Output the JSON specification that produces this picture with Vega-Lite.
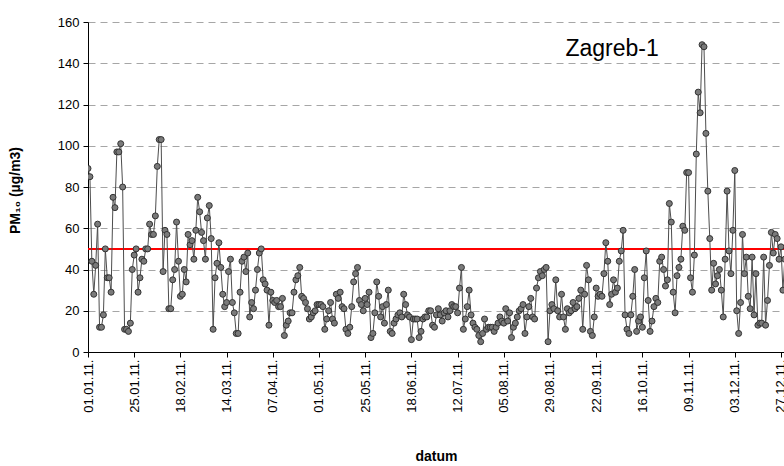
{
  "$schema": "https://vega.github.io/schema/vega-lite/v6.json",
  "width": 696,
  "height": 330,
  "autosize": {"type": "none"},
  "padding": {"left": 88, "top": 22, "right": 0, "bottom": 114},
  "background": "white",
  "config": {"view": {"stroke": null}, "font": "Liberation Sans"},
  "datasets": {
    "pm": [
      {"datum":"2011-01-01","pm10":89},{"datum":"2011-01-02","pm10":85},{"datum":"2011-01-03","pm10":44},{"datum":"2011-01-04","pm10":28},{"datum":"2011-01-05","pm10":42},{"datum":"2011-01-06","pm10":62},{"datum":"2011-01-07","pm10":12},{"datum":"2011-01-08","pm10":12},{"datum":"2011-01-09","pm10":18},{"datum":"2011-01-10","pm10":50},{"datum":"2011-01-11","pm10":36},{"datum":"2011-01-12","pm10":36},{"datum":"2011-01-13","pm10":29},{"datum":"2011-01-14","pm10":75},{"datum":"2011-01-15","pm10":70},{"datum":"2011-01-16","pm10":97},{"datum":"2011-01-17","pm10":97},{"datum":"2011-01-18","pm10":101},{"datum":"2011-01-19","pm10":80},{"datum":"2011-01-20","pm10":11},{"datum":"2011-01-21","pm10":11},{"datum":"2011-01-22","pm10":10},{"datum":"2011-01-23","pm10":14},{"datum":"2011-01-24","pm10":40},{"datum":"2011-01-25","pm10":47},{"datum":"2011-01-26","pm10":50},{"datum":"2011-01-27","pm10":29},{"datum":"2011-01-28","pm10":36},{"datum":"2011-01-29","pm10":45},{"datum":"2011-01-30","pm10":44},{"datum":"2011-01-31","pm10":50},
      {"datum":"2011-02-01","pm10":50},{"datum":"2011-02-02","pm10":62},{"datum":"2011-02-03","pm10":57},{"datum":"2011-02-04","pm10":57},{"datum":"2011-02-05","pm10":66},{"datum":"2011-02-06","pm10":90},{"datum":"2011-02-07","pm10":103},{"datum":"2011-02-08","pm10":103},{"datum":"2011-02-09","pm10":39},{"datum":"2011-02-10","pm10":59},{"datum":"2011-02-11","pm10":57},{"datum":"2011-02-12","pm10":21},{"datum":"2011-02-13","pm10":21},{"datum":"2011-02-14","pm10":35},{"datum":"2011-02-15","pm10":40},{"datum":"2011-02-16","pm10":63},{"datum":"2011-02-17","pm10":44},{"datum":"2011-02-18","pm10":27},{"datum":"2011-02-19","pm10":28},{"datum":"2011-02-20","pm10":40},{"datum":"2011-02-21","pm10":34},{"datum":"2011-02-22","pm10":57},{"datum":"2011-02-23","pm10":52},{"datum":"2011-02-24","pm10":54},{"datum":"2011-02-25","pm10":45},{"datum":"2011-02-26","pm10":59},{"datum":"2011-02-27","pm10":75},{"datum":"2011-02-28","pm10":68},
      {"datum":"2011-03-01","pm10":58},{"datum":"2011-03-02","pm10":54},{"datum":"2011-03-03","pm10":45},{"datum":"2011-03-04","pm10":65},{"datum":"2011-03-05","pm10":71},{"datum":"2011-03-06","pm10":55},{"datum":"2011-03-07","pm10":11},{"datum":"2011-03-08","pm10":36},{"datum":"2011-03-09","pm10":43},{"datum":"2011-03-10","pm10":53},{"datum":"2011-03-11","pm10":41},{"datum":"2011-03-12","pm10":28},{"datum":"2011-03-13","pm10":22},{"datum":"2011-03-14","pm10":24},{"datum":"2011-03-15","pm10":39},{"datum":"2011-03-16","pm10":45},{"datum":"2011-03-17","pm10":24},{"datum":"2011-03-18","pm10":19},{"datum":"2011-03-19","pm10":9},{"datum":"2011-03-20","pm10":9},{"datum":"2011-03-21","pm10":29},{"datum":"2011-03-22","pm10":44},{"datum":"2011-03-23","pm10":46},{"datum":"2011-03-24","pm10":39},{"datum":"2011-03-25","pm10":48},{"datum":"2011-03-26","pm10":17},{"datum":"2011-03-27","pm10":24},{"datum":"2011-03-28","pm10":21},{"datum":"2011-03-29","pm10":30},{"datum":"2011-03-30","pm10":40},{"datum":"2011-03-31","pm10":48},
      {"datum":"2011-04-01","pm10":50},{"datum":"2011-04-02","pm10":35},{"datum":"2011-04-03","pm10":33},{"datum":"2011-04-04","pm10":30},{"datum":"2011-04-05","pm10":13},{"datum":"2011-04-06","pm10":29},{"datum":"2011-04-07","pm10":25},{"datum":"2011-04-08","pm10":24},{"datum":"2011-04-09","pm10":25},{"datum":"2011-04-10","pm10":22},{"datum":"2011-04-11","pm10":22},{"datum":"2011-04-12","pm10":26},{"datum":"2011-04-13","pm10":8},{"datum":"2011-04-14","pm10":13},{"datum":"2011-04-15","pm10":15},{"datum":"2011-04-16","pm10":19},{"datum":"2011-04-17","pm10":19},{"datum":"2011-04-18","pm10":29},{"datum":"2011-04-19","pm10":35},{"datum":"2011-04-20","pm10":37},{"datum":"2011-04-21","pm10":41},{"datum":"2011-04-22","pm10":27},{"datum":"2011-04-23","pm10":26},{"datum":"2011-04-24","pm10":24},{"datum":"2011-04-25","pm10":21},{"datum":"2011-04-26","pm10":16},{"datum":"2011-04-27","pm10":17},{"datum":"2011-04-28","pm10":19},{"datum":"2011-04-29","pm10":20},{"datum":"2011-04-30","pm10":23},
      {"datum":"2011-05-01","pm10":23},{"datum":"2011-05-02","pm10":23},{"datum":"2011-05-03","pm10":22},{"datum":"2011-05-04","pm10":11},{"datum":"2011-05-05","pm10":16},{"datum":"2011-05-06","pm10":20},{"datum":"2011-05-07","pm10":24},{"datum":"2011-05-08","pm10":16},{"datum":"2011-05-09","pm10":14},{"datum":"2011-05-10","pm10":28},{"datum":"2011-05-11","pm10":26},{"datum":"2011-05-12","pm10":29},{"datum":"2011-05-13","pm10":22},{"datum":"2011-05-14","pm10":21},{"datum":"2011-05-15","pm10":11},{"datum":"2011-05-16","pm10":9},{"datum":"2011-05-17","pm10":12},{"datum":"2011-05-18","pm10":22},{"datum":"2011-05-19","pm10":34},{"datum":"2011-05-20","pm10":38},{"datum":"2011-05-21","pm10":41},{"datum":"2011-05-22","pm10":25},{"datum":"2011-05-23","pm10":23},{"datum":"2011-05-24","pm10":20},{"datum":"2011-05-25","pm10":26},{"datum":"2011-05-26","pm10":23},{"datum":"2011-05-27","pm10":29},{"datum":"2011-05-28","pm10":7},{"datum":"2011-05-29","pm10":9},{"datum":"2011-05-30","pm10":19},{"datum":"2011-05-31","pm10":34},
      {"datum":"2011-06-01","pm10":27},{"datum":"2011-06-02","pm10":17},{"datum":"2011-06-03","pm10":22},{"datum":"2011-06-04","pm10":14},{"datum":"2011-06-05","pm10":23},{"datum":"2011-06-06","pm10":30},{"datum":"2011-06-07","pm10":10},{"datum":"2011-06-08","pm10":9},{"datum":"2011-06-09","pm10":14},{"datum":"2011-06-10","pm10":16},{"datum":"2011-06-11","pm10":18},{"datum":"2011-06-12","pm10":19},{"datum":"2011-06-13","pm10":17},{"datum":"2011-06-14","pm10":28},{"datum":"2011-06-15","pm10":23},{"datum":"2011-06-16","pm10":18},{"datum":"2011-06-17","pm10":17},{"datum":"2011-06-18","pm10":6},{"datum":"2011-06-19","pm10":16},{"datum":"2011-06-20","pm10":16},{"datum":"2011-06-21","pm10":16},{"datum":"2011-06-22","pm10":7},{"datum":"2011-06-23","pm10":10},{"datum":"2011-06-24","pm10":16},{"datum":"2011-06-25","pm10":17},{"datum":"2011-06-26","pm10":17},{"datum":"2011-06-27","pm10":20},{"datum":"2011-06-28","pm10":20},{"datum":"2011-06-29","pm10":13},{"datum":"2011-06-30","pm10":12},
      {"datum":"2011-07-01","pm10":18},{"datum":"2011-07-02","pm10":21},{"datum":"2011-07-03","pm10":18},{"datum":"2011-07-04","pm10":15},{"datum":"2011-07-05","pm10":19},{"datum":"2011-07-06","pm10":20},{"datum":"2011-07-07","pm10":17},{"datum":"2011-07-08","pm10":20},{"datum":"2011-07-09","pm10":23},{"datum":"2011-07-10","pm10":22},{"datum":"2011-07-11","pm10":22},{"datum":"2011-07-12","pm10":19},{"datum":"2011-07-13","pm10":31},{"datum":"2011-07-14","pm10":41},{"datum":"2011-07-15","pm10":11},{"datum":"2011-07-16","pm10":16},{"datum":"2011-07-17","pm10":22},{"datum":"2011-07-18","pm10":30},{"datum":"2011-07-19","pm10":18},{"datum":"2011-07-20","pm10":14},{"datum":"2011-07-21","pm10":12},{"datum":"2011-07-22","pm10":11},{"datum":"2011-07-23","pm10":8},{"datum":"2011-07-24","pm10":5},{"datum":"2011-07-25","pm10":9},{"datum":"2011-07-26","pm10":16},{"datum":"2011-07-27","pm10":11},{"datum":"2011-07-28","pm10":12},{"datum":"2011-07-29","pm10":12},{"datum":"2011-07-30","pm10":12},{"datum":"2011-07-31","pm10":10},
      {"datum":"2011-08-01","pm10":12},{"datum":"2011-08-02","pm10":14},{"datum":"2011-08-03","pm10":17},{"datum":"2011-08-04","pm10":15},{"datum":"2011-08-05","pm10":14},{"datum":"2011-08-06","pm10":21},{"datum":"2011-08-07","pm10":15},{"datum":"2011-08-08","pm10":19},{"datum":"2011-08-09","pm10":7},{"datum":"2011-08-10","pm10":12},{"datum":"2011-08-11","pm10":14},{"datum":"2011-08-12","pm10":17},{"datum":"2011-08-13","pm10":20},{"datum":"2011-08-14","pm10":21},{"datum":"2011-08-15","pm10":23},{"datum":"2011-08-16","pm10":9},{"datum":"2011-08-17","pm10":17},{"datum":"2011-08-18","pm10":22},{"datum":"2011-08-19","pm10":26},{"datum":"2011-08-20","pm10":17},{"datum":"2011-08-21","pm10":16},{"datum":"2011-08-22","pm10":31},{"datum":"2011-08-23","pm10":36},{"datum":"2011-08-24","pm10":39},{"datum":"2011-08-25","pm10":37},{"datum":"2011-08-26","pm10":40},{"datum":"2011-08-27","pm10":41},{"datum":"2011-08-28","pm10":5},{"datum":"2011-08-29","pm10":20},{"datum":"2011-08-30","pm10":23},{"datum":"2011-08-31","pm10":21},
      {"datum":"2011-09-01","pm10":35},{"datum":"2011-09-02","pm10":20},{"datum":"2011-09-03","pm10":17},{"datum":"2011-09-04","pm10":28},{"datum":"2011-09-05","pm10":17},{"datum":"2011-09-06","pm10":11},{"datum":"2011-09-07","pm10":21},{"datum":"2011-09-08","pm10":19},{"datum":"2011-09-09","pm10":20},{"datum":"2011-09-10","pm10":24},{"datum":"2011-09-11","pm10":21},{"datum":"2011-09-12","pm10":22},{"datum":"2011-09-13","pm10":26},{"datum":"2011-09-14","pm10":30},{"datum":"2011-09-15","pm10":11},{"datum":"2011-09-16","pm10":28},{"datum":"2011-09-17","pm10":42},{"datum":"2011-09-18","pm10":35},{"datum":"2011-09-19","pm10":10},{"datum":"2011-09-20","pm10":8},{"datum":"2011-09-21","pm10":17},{"datum":"2011-09-22","pm10":31},{"datum":"2011-09-23","pm10":27},{"datum":"2011-09-24","pm10":28},{"datum":"2011-09-25","pm10":27},{"datum":"2011-09-26","pm10":38},{"datum":"2011-09-27","pm10":53},{"datum":"2011-09-28","pm10":44},{"datum":"2011-09-29","pm10":23},{"datum":"2011-09-30","pm10":28},
      {"datum":"2011-10-01","pm10":35},{"datum":"2011-10-02","pm10":29},{"datum":"2011-10-03","pm10":31},{"datum":"2011-10-04","pm10":44},{"datum":"2011-10-05","pm10":49},{"datum":"2011-10-06","pm10":59},{"datum":"2011-10-07","pm10":18},{"datum":"2011-10-08","pm10":11},{"datum":"2011-10-09","pm10":9},{"datum":"2011-10-10","pm10":18},{"datum":"2011-10-11","pm10":27},{"datum":"2011-10-12","pm10":40},{"datum":"2011-10-13","pm10":10},{"datum":"2011-10-14","pm10":15},{"datum":"2011-10-15","pm10":17},{"datum":"2011-10-16","pm10":12},{"datum":"2011-10-17","pm10":36},{"datum":"2011-10-18","pm10":49},{"datum":"2011-10-19","pm10":25},{"datum":"2011-10-20","pm10":10},{"datum":"2011-10-21","pm10":15},{"datum":"2011-10-22","pm10":22},{"datum":"2011-10-23","pm10":26},{"datum":"2011-10-24","pm10":24},{"datum":"2011-10-25","pm10":44},{"datum":"2011-10-26","pm10":46},{"datum":"2011-10-27","pm10":40},{"datum":"2011-10-28","pm10":32},{"datum":"2011-10-29","pm10":35},{"datum":"2011-10-30","pm10":72},{"datum":"2011-10-31","pm10":63},
      {"datum":"2011-11-01","pm10":29},{"datum":"2011-11-02","pm10":19},{"datum":"2011-11-03","pm10":37},{"datum":"2011-11-04","pm10":41},{"datum":"2011-11-05","pm10":45},{"datum":"2011-11-06","pm10":61},{"datum":"2011-11-07","pm10":59},{"datum":"2011-11-08","pm10":87},{"datum":"2011-11-09","pm10":87},{"datum":"2011-11-10","pm10":36},{"datum":"2011-11-11","pm10":29},{"datum":"2011-11-12","pm10":47},{"datum":"2011-11-13","pm10":96},{"datum":"2011-11-14","pm10":126},{"datum":"2011-11-15","pm10":116},{"datum":"2011-11-16","pm10":149},{"datum":"2011-11-17","pm10":148},{"datum":"2011-11-18","pm10":106},{"datum":"2011-11-19","pm10":78},{"datum":"2011-11-20","pm10":55},{"datum":"2011-11-21","pm10":30},{"datum":"2011-11-22","pm10":43},{"datum":"2011-11-23","pm10":33},{"datum":"2011-11-24","pm10":37},{"datum":"2011-11-25","pm10":40},{"datum":"2011-11-26","pm10":30},{"datum":"2011-11-27","pm10":17},{"datum":"2011-11-28","pm10":45},{"datum":"2011-11-29","pm10":78},{"datum":"2011-11-30","pm10":49},
      {"datum":"2011-12-01","pm10":38},{"datum":"2011-12-02","pm10":59},{"datum":"2011-12-03","pm10":88},{"datum":"2011-12-04","pm10":20},{"datum":"2011-12-05","pm10":9},{"datum":"2011-12-06","pm10":24},{"datum":"2011-12-07","pm10":57},{"datum":"2011-12-08","pm10":38},{"datum":"2011-12-09","pm10":46},{"datum":"2011-12-10","pm10":27},{"datum":"2011-12-11","pm10":21},{"datum":"2011-12-12","pm10":46},{"datum":"2011-12-13","pm10":18},{"datum":"2011-12-14","pm10":38},{"datum":"2011-12-15","pm10":13},{"datum":"2011-12-16","pm10":14},{"datum":"2011-12-17","pm10":14},{"datum":"2011-12-18","pm10":46},{"datum":"2011-12-19","pm10":13},{"datum":"2011-12-20","pm10":25},{"datum":"2011-12-21","pm10":42},{"datum":"2011-12-22","pm10":58},{"datum":"2011-12-23","pm10":48},{"datum":"2011-12-24","pm10":57},{"datum":"2011-12-25","pm10":55},{"datum":"2011-12-26","pm10":45},{"datum":"2011-12-27","pm10":51},{"datum":"2011-12-28","pm10":30},{"datum":"2011-12-29","pm10":45}
    ],
    "label": [{"station": "Zagreb-1", "datum": "2011-09-06", "pm10": 147}],
    "limit": [{"pm10": 50}]
  },
  "encoding": {
    "x": {
      "field": "datum",
      "type": "temporal",
      "scale": {
        "type": "utc",
        "domain": [
          {"year": 2011, "month": 1, "date": 1, "utc": true},
          {"year": 2011, "month": 12, "date": 28, "hours": 13, "minutes": 30, "utc": true}
        ]
      },
      "axis": {
        "values": [
          {"year": 2011, "month": 1, "date": 1, "utc": true},
          {"year": 2011, "month": 1, "date": 25, "utc": true},
          {"year": 2011, "month": 2, "date": 18, "utc": true},
          {"year": 2011, "month": 3, "date": 14, "utc": true},
          {"year": 2011, "month": 4, "date": 7, "utc": true},
          {"year": 2011, "month": 5, "date": 1, "utc": true},
          {"year": 2011, "month": 5, "date": 25, "utc": true},
          {"year": 2011, "month": 6, "date": 18, "utc": true},
          {"year": 2011, "month": 7, "date": 12, "utc": true},
          {"year": 2011, "month": 8, "date": 5, "utc": true},
          {"year": 2011, "month": 8, "date": 29, "utc": true},
          {"year": 2011, "month": 9, "date": 22, "utc": true},
          {"year": 2011, "month": 10, "date": 16, "utc": true},
          {"year": 2011, "month": 11, "date": 9, "utc": true},
          {"year": 2011, "month": 12, "date": 3, "utc": true},
          {"year": 2011, "month": 12, "date": 27, "utc": true}
        ],
        "labelExpr": "utcFormat(datum.value, '%d.%m.%y.')",
        "labelAngle": -90,
        "labelFontSize": 13,
        "labelColor": "black",
        "labelPadding": 2,
        "labelOverlap": false,
        "labelFlush": false,
        "tickColor": "black",
        "tickSize": 5,
        "domainColor": "black",
        "grid": false,
        "title": "datum",
        "titleFontSize": 14,
        "titleFontWeight": "bold",
        "titleColor": "black",
        "titleX": 348,
        "titleY": 104,
        "titleBaseline": "middle",
        "titleAlign": "center"
      }
    },
    "y": {
      "field": "pm10",
      "type": "quantitative",
      "scale": {"domain": [0, 160], "nice": false},
      "axis": {
        "values": [0, 20, 40, 60, 80, 100, 120, 140, 160],
        "labelFontSize": 13,
        "labelColor": "black",
        "labelPadding": 4,
        "tickColor": "black",
        "tickSize": 5,
        "domainColor": "black",
        "grid": true,
        "gridColor": "#a6a6a6",
        "gridDash": [7, 5],
        "title": "PM₁₀ (µg/m3)",
        "titleFontSize": 14,
        "titleFontWeight": "bold",
        "titleColor": "black",
        "titleAngle": -90,
        "titleX": -73,
        "titleY": 168,
        "titleBaseline": "middle",
        "titleAlign": "center"
      }
    }
  },
  "layer": [
    {
      "data": {"name": "limit"},
      "mark": {"type": "rule", "color": "#ff0000", "strokeWidth": 2},
      "encoding": {"x": null, "y": {"field": "pm10", "type": "quantitative"}}
    },
    {
      "data": {"name": "pm"},
      "mark": {"type": "line", "color": "#4d4d4d", "strokeWidth": 1, "clip": true}
    },
    {
      "data": {"name": "pm"},
      "mark": {"type": "point", "filled": true, "fill": "#7a7a7a", "stroke": "#333333", "strokeWidth": 1, "size": 36, "opacity": 1, "clip": true}
    },
    {
      "data": {"name": "label"},
      "mark": {"type": "text", "fontSize": 23, "fontWeight": "normal", "align": "left", "baseline": "middle", "fill": "black"},
      "encoding": {
        "text": {"field": "station", "type": "nominal"}
      }
    }
  ]
}
